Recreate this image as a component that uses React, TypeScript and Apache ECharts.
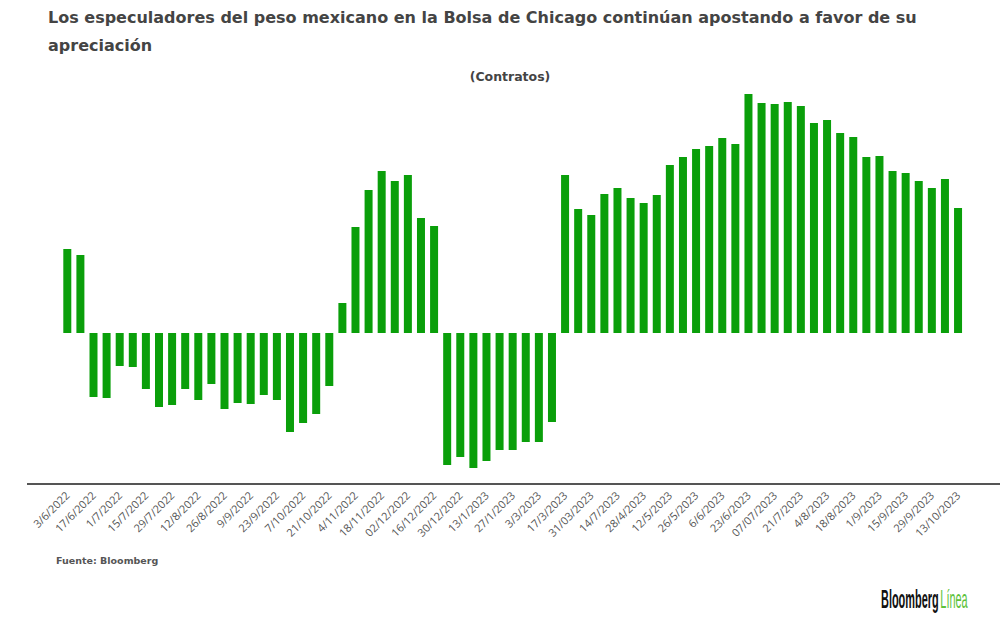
import React, { useEffect, useRef } from 'react';
import * as echarts from 'echarts';

// semanas del reporte CFTC (solo se rotula una de cada dos)
const fechas: string[] = [
    '3/6/2022', '10/6/2022', '17/6/2022', '24/6/2022', '1/7/2022', '8/7/2022', '15/7/2022', '22/7/2022',
    '29/7/2022', '5/8/2022', '12/8/2022', '19/8/2022', '26/8/2022', '2/9/2022', '9/9/2022', '16/9/2022',
    '23/9/2022', '30/9/2022', '7/10/2022', '14/10/2022', '21/10/2022', '28/10/2022', '4/11/2022', '11/11/2022',
    '18/11/2022', '25/11/2022', '02/12/2022', '9/12/2022', '16/12/2022', '23/12/2022', '30/12/2022', '6/1/2023',
    '13/1/2023', '20/1/2023', '27/1/2023', '24/2/2023', '3/3/2023', '10/3/2023', '17/3/2023', '24/3/2023',
    '31/03/2023', '7/4/2023', '14/7/2023', '21/4/2023', '28/4/2023', '5/5/2023', '12/5/2023', '19/5/2023',
    '26/5/2023', '2/6/2023', '6/6/2023', '16/6/2023', '23/6/2023', '30/6/2023', '07/07/2023', '14/7/2023',
    '21/7/2023', '28/7/2023', '4/8/2023', '11/8/2023', '18/8/2023', '25/8/2023', '1/9/2023', '8/9/2023',
    '15/9/2023', '22/9/2023', '29/9/2023', '6/10/2023', '13/10/2023'
];

// posición neta especulativa (contratos)
const contratos: number[] = [
    50400, 46800, -38400, -39000, -19800, -20400, -33600, -44400,
    -43200, -33600, -40200, -30600, -45600, -42000, -42600, -37200,
    -40200, -59400, -54000, -48600, -31800, 18000, 63600, 85800,
    97200, 91200, 94800, 69000, 64200, -79200, -74400, -81000,
    -76800, -70200, -70200, -65400, -65400, -53400, 94800, 74400,
    70800, 83400, 87000, 81000, 78000, 82800, 100800, 105600,
    110400, 112200, 117000, 113400, 143400, 138000, 137400, 138600,
    136200, 126000, 127800, 120000, 117600, 105600, 106200, 97200,
    96000, 91200, 87000, 92400, 75000
];

const titulo = 'Los especuladores del peso mexicano en la Bolsa de Chicago continúan apostando a favor de su\napreciación';

const App: React.FC = () => {
    const chartRef = useRef<HTMLDivElement>(null);

    useEffect(() => {
        if (!chartRef.current) return;
        const myChart = echarts.init(chartRef.current, null, { renderer: 'svg' });

        const option: echarts.EChartsOption = {
            animation: false,
            backgroundColor: '#ffffff',
            textStyle: { fontFamily: 'Open Sans' },
            title: [
                {
                    text: titulo,
                    left: 48,
                    top: 3,
                    padding: 0,
                    textStyle: { color: '#444', fontSize: 16, fontWeight: 'bold', lineHeight: 28, fontFamily: 'DejaVu Sans' }
                },
                {
                    text: 'Fuente: Bloomberg',
                    left: 56,
                    top: 555,
                    padding: 0,
                    textStyle: { color: '#555', fontSize: 9.5, fontWeight: 'bold', fontFamily: 'DejaVu Sans' }
                }
            ],
            graphic: [
                {
                    type: 'text',
                    x: 510,
                    y: 76,
                    style: {
                        text: '(Contratos)',
                        fill: '#444',
                        font: 'bold 12.5px "DejaVu Sans"',
                        textAlign: 'center',
                        textVerticalAlign: 'middle'
                    }
                },
                {
                    type: 'line',
                    shape: { x1: 27, y1: 484, x2: 1000, y2: 484 },
                    style: { stroke: '#555', lineWidth: 2 }
                },
                {
                    type: 'text',
                    x: 881,
                    y: 599,
                    scaleX: 0.42,
                    style: {
                        text: '{a|Bloomberg}{b|Línea}',
                        textVerticalAlign: 'middle',
                        rich: {
                            a: { fill: '#111', font: 'bold 26px "Liberation Sans"' },
                            b: { fill: '#5cc23a', font: '26px "Liberation Sans"', padding: [0, 0, 0, 4] }
                        }
                    } as any
                }
            ],
            grid: { left: 60.75, right: 35.4, top: 83, bottom: 146 },
            xAxis: {
                type: 'category',
                data: fechas,
                axisLine: { show: false },
                axisTick: { show: false },
                axisLabel: {
                    interval: 1,
                    rotate: 45,
                    color: '#555',
                    fontSize: 11,
                    margin: 10,
                    fontFamily: 'Open Sans'
                }
            },
            yAxis: {
                type: 'value',
                min: -90000,
                max: 150000,
                axisLabel: { show: false },
                splitLine: { show: false },
                axisLine: { show: false },
                axisTick: { show: false }
            },
            series: [
                {
                    name: 'Contratos',
                    type: 'bar',
                    data: contratos,
                    barWidth: 8,
                    itemStyle: { color: '#0a9f0a' }
                }
            ]
        };

        myChart.setOption(option);

        return () => {
            myChart.dispose();
        };
    }, []);

    return (
        <div
            ref={chartRef}
            style={{ position: 'absolute', left: 0, top: 0, width: '1000px', height: '629px' }}
        />
    );
};

export default App;
